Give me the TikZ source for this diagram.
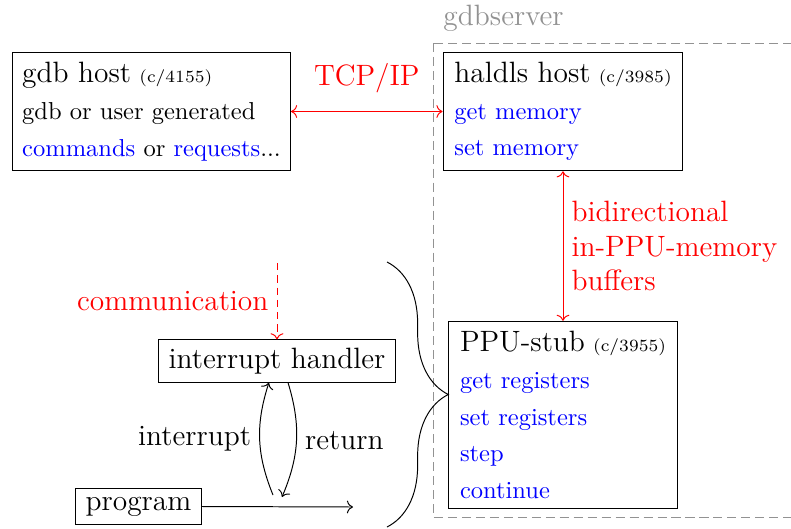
\documentclass[tikz,border=0pt]{standalone}
\usetikzlibrary{arrows.meta, positioning, calc, decorations.pathreplacing}
\definecolor{srvGrey}{HTML}{929292}

\begin{document}
\begin{tikzpicture}[
    x=0.408pt, y=-0.408pt,
    host/.style={draw, align=left, inner sep=4pt, font=\normalsize},
    plainbox/.style={draw, font=\large, inner xsep=4pt, inner ysep=3.3pt},
    link/.style={red, <->},
    flow/.style={->},
    lbl/.style={font=\large},
    tag/.style={font=\scriptsize},
  ]
  \useasboundingbox (0,0) rectangle (791,529);
  % gdbserver frame runs off the right edge
  \begin{scope}
    \clip (0,0) rectangle (791,529);
    \draw[srvGrey, dash pattern=on 3.7pt off 2pt] (433,43) rectangle (830,517);
  \end{scope}
  \node[anchor=west, inner sep=0pt, font=\large, text=srvGrey] (srv) at (443,18) {gdbserver};

  \node[host] (gdb) at (151.5,111.5) {{\large gdb host} {\scriptsize (c/4155)}\\[3pt]
    gdb or user generated\\[3pt]
    \textcolor{blue}{commands} or \textcolor{blue}{requests}...};
  \node[host, minimum width=97.9pt] (haldls) at (563,111.5) {{\large haldls host} {\scriptsize (c/3985)}\\[3pt]
    \textcolor{blue}{get memory}\\[3pt]
    \textcolor{blue}{set memory}};
  \node[host, minimum width=93.8pt] (ppu) at (563,415) {{\large PPU-stub} {\scriptsize (c/3955)}\\[3pt]
    \textcolor{blue}{get registers}\\[3pt]
    \textcolor{blue}{set registers}\\[3pt]
    \textcolor{blue}{step}\\[3pt]
    \textcolor{blue}{continue}};

  \draw[link] (gdb.east) -- node[above=4pt, lbl] {TCP/IP} (haldls.west);
  \draw[link] (haldls.south) -- node[right, lbl, align=left] {bidirectional\\in-PPU-memory\\buffers} (ppu.north);

  \node[plainbox] (ih) at (277,361) {interrupt handler};
  \node[plainbox] (prog) at (138.5,506.5) {program};

  \coordinate (commtop) at (277,263);
  \draw[red, ->, dash pattern=on 3pt off 2pt] (commtop) -- node[left, lbl] {communication} (ih.north);

  \coordinate (progend) at (353,507);
  \draw[flow] (prog.east) -- (progend);
  \coordinate (irqfrom) at (273,495);
  \coordinate (retto) at (282,497);
  \draw[flow] (irqfrom) to[bend left=20] node[left, lbl] {interrupt} ([xshift=-3.3pt]ih.south);
  \draw[flow] ([xshift=4.5pt]ih.south) to[bend left=20] node[right, lbl] {return} (retto);

  \coordinate (bracetop) at (387,262);
  \coordinate (bracebot) at (387,527);
  \draw[decorate, decoration={brace, amplitude=25pt}] (bracetop) -- (bracebot);
\end{tikzpicture}
\end{document}
